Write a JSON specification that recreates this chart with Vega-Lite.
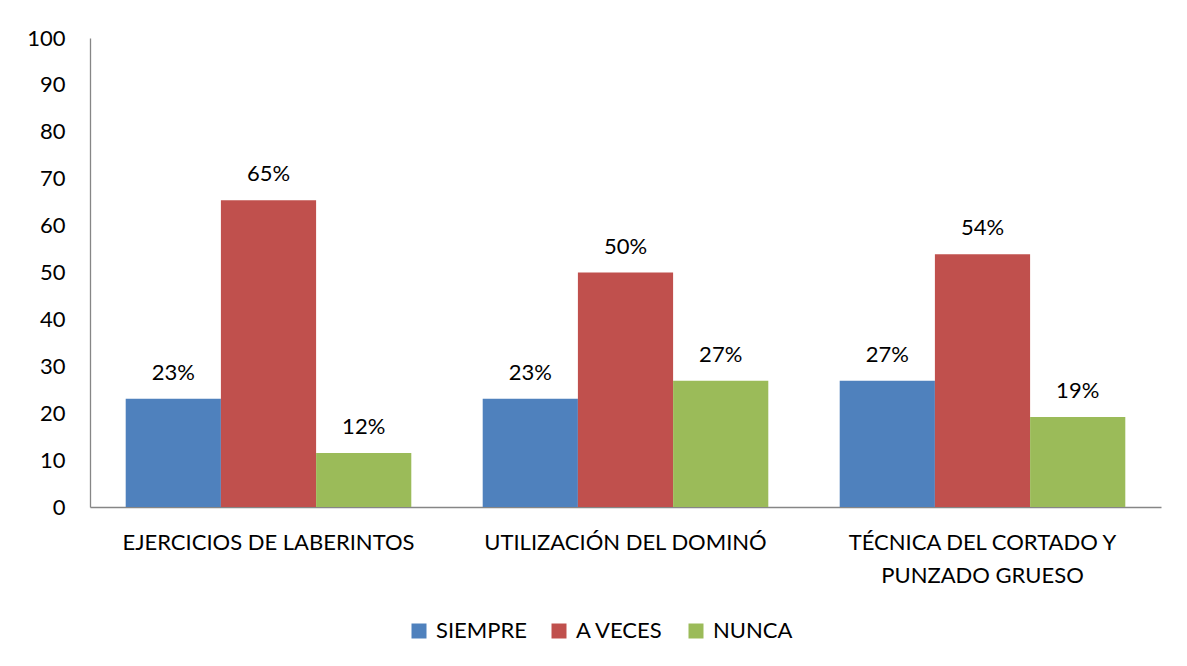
{
  "$schema": "https://vega.github.io/schema/vega-lite/v6.json",
  "width": 1071,
  "height": 469,
  "autosize": {"type": "none"},
  "padding": {"left": 90, "top": 38, "right": 26, "bottom": 159},
  "background": "white",
  "config": {
    "font": "Lato",
    "view": {"stroke": null},
    "axis": {"labelFont": "Lato", "labelFontSize": 22, "labelColor": "#000000", "grid": false, "ticks": false, "domainColor": "#868686", "domainWidth": 1.3, "title": null},
    "legend": {"labelFont": "Lato", "labelFontSize": 22, "labelColor": "#000000"}
  },
  "data": {
    "values": [
      {"actividad": "EJERCICIOS DE LABERINTOS", "respuesta": "SIEMPRE", "valor": 23.1, "etiqueta": "23%"},
      {"actividad": "EJERCICIOS DE LABERINTOS", "respuesta": "A VECES", "valor": 65.4, "etiqueta": "65%"},
      {"actividad": "EJERCICIOS DE LABERINTOS", "respuesta": "NUNCA", "valor": 11.5, "etiqueta": "12%"},
      {"actividad": "UTILIZACIÓN DEL DOMINÓ", "respuesta": "SIEMPRE", "valor": 23.1, "etiqueta": "23%"},
      {"actividad": "UTILIZACIÓN DEL DOMINÓ", "respuesta": "A VECES", "valor": 50.0, "etiqueta": "50%"},
      {"actividad": "UTILIZACIÓN DEL DOMINÓ", "respuesta": "NUNCA", "valor": 26.9, "etiqueta": "27%"},
      {"actividad": "TÉCNICA DEL CORTADO Y PUNZADO GRUESO", "respuesta": "SIEMPRE", "valor": 26.9, "etiqueta": "27%"},
      {"actividad": "TÉCNICA DEL CORTADO Y PUNZADO GRUESO", "respuesta": "A VECES", "valor": 53.9, "etiqueta": "54%"},
      {"actividad": "TÉCNICA DEL CORTADO Y PUNZADO GRUESO", "respuesta": "NUNCA", "valor": 19.2, "etiqueta": "19%"}
    ]
  },
  "encoding": {
    "x": {
      "field": "actividad", "type": "nominal", "sort": null,
      "scale": {"paddingInner": 0.2, "paddingOuter": 0.1},
      "axis": {
        "labelAngle": 0, "labelPadding": 25, "labelLineHeight": 33, "labelLimit": 400,
        "labelExpr": "datum.label == 'TÉCNICA DEL CORTADO Y PUNZADO GRUESO' ? ['TÉCNICA DEL CORTADO Y', 'PUNZADO GRUESO'] : datum.label"
      }
    },
    "xOffset": {"field": "respuesta", "type": "nominal", "sort": ["SIEMPRE", "A VECES", "NUNCA"], "scale": {"paddingInner": 0, "paddingOuter": 0}},
    "y": {
      "field": "valor", "type": "quantitative",
      "scale": {"domain": [0, 100], "nice": false},
      "axis": {"values": [0, 10, 20, 30, 40, 50, 60, 70, 80, 90, 100], "labelPadding": 25}
    }
  },
  "layer": [
    {
      "mark": {"type": "bar"},
      "encoding": {
        "color": {
          "field": "respuesta", "type": "nominal",
          "sort": ["SIEMPRE", "A VECES", "NUNCA"],
          "scale": {"domain": ["SIEMPRE", "A VECES", "NUNCA"], "range": ["#4F81BD", "#C0504D", "#9BBB59"]},
          "legend": {
            "title": null, "orient": "none", "direction": "horizontal",
            "legendX": 318, "legendY": 582,
            "symbolType": "square", "symbolSize": 225, "symbolStrokeWidth": 0,
            "labelOffset": 6, "columnPadding": 21
          }
        }
      }
    },
    {
      "mark": {"type": "text", "baseline": "bottom", "dy": -14, "fontSize": 22, "font": "Lato", "color": "#000000"},
      "encoding": {"text": {"field": "etiqueta"}}
    }
  ]
}
